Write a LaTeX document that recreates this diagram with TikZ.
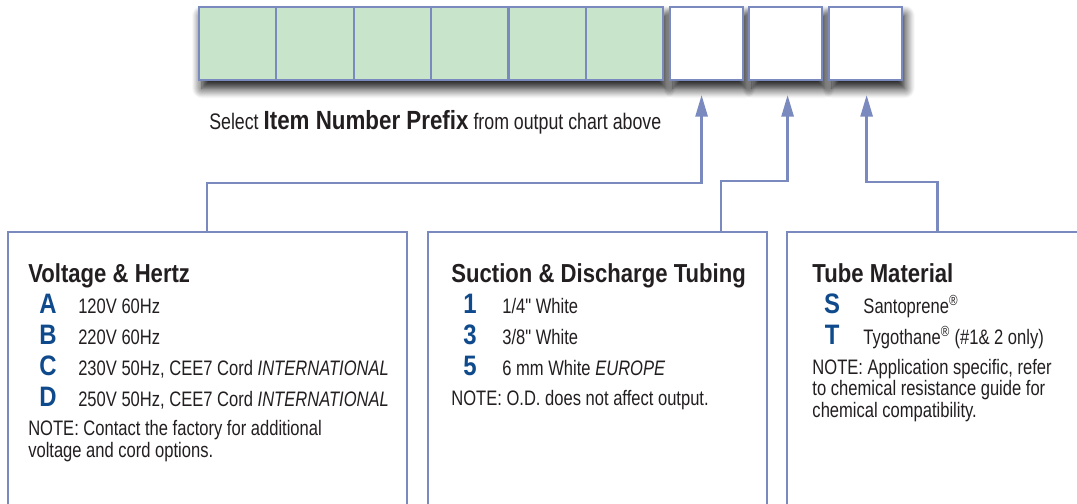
\documentclass[tikz,border=0pt]{standalone}
\usepackage{fontspec}
\setmainfont{Liberation Sans}[FakeStretch=0.79]
\newfontfamily\headfont{Liberation Sans}[FakeStretch=0.85]
\newfontfamily\inchfont{Liberation Sans}[FakeStretch=0.79]
\usetikzlibrary{calc}
\usetikzlibrary{positioning}
\usetikzlibrary{arrows.meta}
\usetikzlibrary{shadows.blur}
\usetikzlibrary{backgrounds}

\definecolor{linkblue}{RGB}{122,138,190}
\definecolor{cellgreen}{RGB}{200,228,203}
\definecolor{codeblue}{RGB}{14,74,140}
\definecolor{inkgray}{RGB}{35,31,32}

\begin{document}
\begin{tikzpicture}[x=0.025cm, y=-0.025cm,
          cell/.style = {draw=linkblue, line width=1.6pt, fill=cellgreen, minimum width=1.933cm, minimum height=1.825cm, inner sep=0pt, outer sep=0pt},
          slot/.style = {cell, fill=white, minimum width=1.825cm},
          optbox/.style = {draw=linkblue, line width=1.8pt, fill=white, minimum width=#1, minimum height=7.5cm, anchor=north west, inner sep=0pt, outer sep=0pt},
          head/.style = {anchor=base west, inner sep=0pt, text=inkgray, font=\headfont\bfseries\fontsize{18.5}{20}\selectfont},
          code/.style = {anchor=base, inner sep=0pt, text=codeblue, font=\headfont\bfseries\fontsize{20}{22}\selectfont},
          item/.style = {anchor=base west, inner sep=0pt, text=inkgray, font=\fontsize{14.9}{15}\selectfont},
          note/.style = {item, align=left},
          link/.style = {draw=linkblue, line width=1.9pt, -{Triangle[length=0.54cm, width=0.3cm]}},
          cast/.style = {blur shadow={shadow xshift=2pt, shadow yshift=-6pt, shadow blur radius=7pt, shadow blur steps=10, shadow opacity=95}}
        ]
        \useasboundingbox (0,0) rectangle (1077,504);

        % Code cells
        \node[cell] (c1) at (237.7,43.5) {};
        \foreach \i [remember=\i as \last (initially 1)] in {2,...,6}
          \node[cell, right=0pt of c\last] (c\i) {};
        \node[slot, right=0.175cm of c6] (w1) {};
        \node[slot, right=0.15cm of w1] (w2) {};
        \node[slot, right=0.175cm of w2] (w3) {};

        % Shadows
        \begin{scope}[on background layer]
          \path[cast, fill=white] (c1.north west) rectangle (c6.south east);
          \foreach \w in {w1,w2,w3}
            \path[cast, fill=white] (\w.north west) rectangle (\w.south east);
        \end{scope}

        \node[item, font=\fontsize{16}{16}\selectfont] (prefix) at (209,130)
          {Select {\headfont\bfseries\fontsize{18.7}{20}\selectfont Item Number Prefix} from output chart above};

        % Option boxes
        \node[optbox=9.975cm] (volt) at (8,232) {};
        \node[optbox=8.475cm, right=0.525cm of volt] (tubing) {};
        \node[optbox=8cm, right=0.5cm of tubing] (material) {};

        % Voltage & Hertz (notes sit on their last line)
        \node[head] (volt-h) at ($(volt.north west)+(20,50)$) {Voltage \& Hertz};
        \foreach \k/\t [count=\i] in {A/120V 60Hz, B/220V 60Hz,
            C/{230V 50Hz, CEE7 Cord \textit{INTERNATIONAL}}, D/{250V 50Hz, CEE7 Cord \textit{INTERNATIONAL}}} {
          \node[code] (volt-k\i) at ($(volt.north west)+(40,50+31*\i)$) {\k};
          \node[item] (volt-t\i) at ($(volt.north west)+(70,50+31*\i)$) {\t};
        }
        \node[note] (volt-n) at ($(volt.north west)+(20,225)$) {NOTE: Contact the factory for additional\\voltage and cord options.};

        % Suction & Discharge Tubing
        \node[head] (tubing-h) at ($(tubing.north west)+(23,50)$) {Suction \& Discharge Tubing};
        \foreach \k/\t [count=\i] in {1/{1/4{\inchfont"} White}, 3/{3/8{\inchfont"} White}, 5/{6 mm White \textit{EUROPE}}} {
          \node[code] (tubing-k\i) at ($(tubing.north west)+(42,50+31*\i)$) {\k};
          \node[item] (tubing-t\i) at ($(tubing.north west)+(74,50+31*\i)$) {\t};
        }
        \node[note] (tubing-n) at ($(tubing.north west)+(23,173)$) {NOTE: O.D. does not affect output.};

        % Tube Material
        \node[head] (material-h) at ($(material.north west)+(25,50)$) {Tube Material};
        \foreach \k/\t [count=\i] in {S/{Santoprene\textsuperscript{®}}, T/{Tygothane\textsuperscript{®} (\#1\& 2 only)}} {
          \node[code] (material-k\i) at ($(material.north west)+(45,50+31*\i)$) {\k};
          \node[item] (material-t\i) at ($(material.north west)+(76,50+31*\i)$) {\t};
        }
        \node[note] (material-n) at ($(material.north west)+(25,185)$) {NOTE: Application specific, refer\\to chemical resistance guide for\\chemical compatibility.};

        % Connectors
        \draw[link] ($(volt.north west)+(199,0)$) -- ++(0,-49) -| ($(w1.south)+(-5,15)$);
        \draw[link] ($(tubing.north west)+(293,0)$) -- ++(0,-51) -| ($(w2.south)+(2,15)$);
        \draw[link] ($(material.north west)+(150,0)$) -- ++(0,-50) -| ($(w3.south)+(1,15)$);

      \end{tikzpicture}
\end{document}
